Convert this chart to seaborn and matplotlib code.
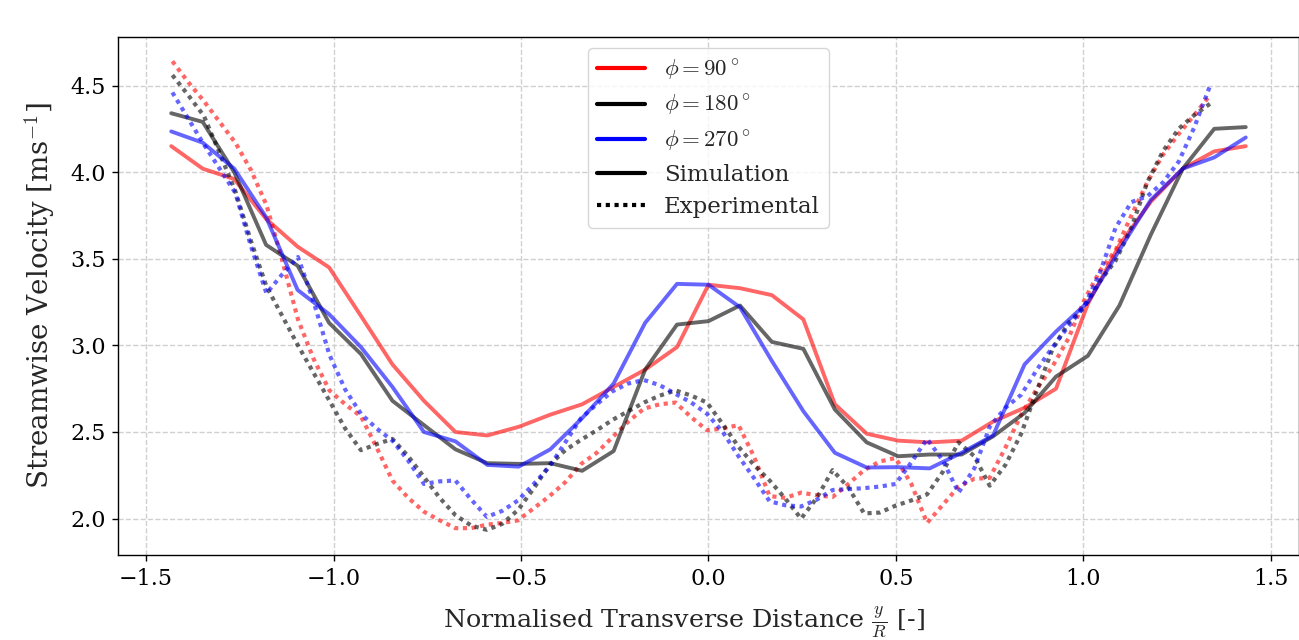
import numpy as np
import pandas as pd
import matplotlib
matplotlib.use("Agg")
import matplotlib.pyplot as plt
import seaborn as sns
from matplotlib.lines import Line2D

# ---- data ----
# Simulation transverse positions (y/R)
x_sim = [-1.433, -1.349, -1.265, -1.180, -1.096, -1.012, -0.927, -0.843, -0.759, -0.675,
         -0.590, -0.506, -0.422, -0.337, -0.253, -0.169, -0.084, 0.000, 0.084, 0.169,
         0.253, 0.337, 0.422, 0.506, 0.590, 0.675, 0.759, 0.843, 0.927, 1.012,
         1.096, 1.180, 1.265, 1.349, 1.433]
sim_90 = [4.15, 4.02, 3.96, 3.73, 3.57, 3.45, 3.17, 2.89, 2.68, 2.50,
          2.48, 2.53, 2.60, 2.66, 2.76, 2.86, 2.99, 3.35, 3.33, 3.29,
          3.15, 2.66, 2.49, 2.45, 2.44, 2.45, 2.56, 2.64, 2.75, 3.24,
          3.58, 3.83, 4.02, 4.12, 4.15]
sim_180 = [4.34, 4.29, 4.00, 3.58, 3.46, 3.13, 2.95, 2.68, 2.54, 2.40,
           2.32, 2.316, 2.32, 2.276, 2.39, 2.86, 3.12, 3.14, 3.23, 3.02,
           2.98, 2.63, 2.44, 2.36, 2.37, 2.37, 2.475, 2.61, 2.82, 2.94,
           3.23, 3.64, 4.02, 4.25, 4.26]
sim_270 = [4.235, 4.17, 4.02, 3.74, 3.32, 3.18, 2.99, 2.76, 2.50, 2.446,
           2.31, 2.30, 2.40, 2.58, 2.78, 3.13, 3.355, 3.35, 3.22, 2.91,
           2.62, 2.38, 2.295, 2.297, 2.29, 2.38, 2.48, 2.89, 3.08, 3.25,
           3.55, 3.84, 4.02, 4.085, 4.20]

# Experimental transverse positions (y/R)
x_exp = [-1.430, -1.388, -1.346, -1.304, -1.262, -1.220, -1.179, -1.137, -1.095, -1.053,
         -1.011, -0.969, -0.927, -0.885, -0.843, -0.801, -0.759, -0.717, -0.675, -0.633,
         -0.591, -0.550, -0.508, -0.466, -0.424, -0.382, -0.340, -0.298, -0.256, -0.214,
         -0.172, -0.130, -0.088, -0.046, -0.004, 0.038, 0.080, 0.121, 0.163, 0.205,
         0.247, 0.289, 0.331, 0.373, 0.415, 0.457, 0.499, 0.541, 0.583, 0.625,
         0.667, 0.709, 0.750, 0.792, 0.834, 0.876, 0.918, 0.960, 1.002, 1.044,
         1.086, 1.128, 1.170, 1.212, 1.254, 1.296, 1.338]
exp_90 = [4.64, 4.52, 4.41, 4.29, 4.17, 4.01, 3.81, 3.49, 3.15, 2.92,
          2.74, 2.66, 2.59, 2.41, 2.22, 2.12, 2.04, 1.99, 1.945, 1.945,
          1.965, 1.975, 1.99, 2.06, 2.13, 2.21, 2.315, 2.38, 2.47, 2.56,
          2.635, 2.66, 2.67, 2.585, 2.51, 2.52, 2.54, 2.36, 2.13, 2.12,
          2.15, 2.135, 2.125, 2.20, 2.28, 2.33, 2.35, 2.20, 1.975, 2.08,
          2.185, 2.23, 2.235, 2.41, 2.60, 2.75, 2.88, 3.04, 3.26, 3.43,
          3.55, 3.75, 3.94, 4.10, 4.22, 4.33, 4.445]
exp_180 = [4.56, 4.445, 4.325, 4.11, 3.89, 3.60, 3.34, 3.17, 3.00, 2.84,
           2.68, 2.52, 2.395, 2.43, 2.46, 2.36, 2.24, 2.12, 2.02, 1.96,
           1.935, 1.97, 2.05, 2.175, 2.31, 2.395, 2.455, 2.51, 2.57, 2.62,
           2.67, 2.71, 2.74, 2.71, 2.67, 2.545, 2.415, 2.31, 2.22, 2.115,
           2.00, 2.12, 2.28, 2.18, 2.03, 2.035, 2.075, 2.105, 2.14, 2.27,
           2.44, 2.36, 2.19, 2.31, 2.49, 2.74, 2.98, 3.13, 3.22, 3.37,
           3.49, 3.68, 3.94, 4.12, 4.25, 4.33, 4.395]
exp_270 = [4.46, 4.31, 4.16, 4.02, 3.88, 3.57, 3.30, 3.41, 3.51, 3.25,
           2.945, 2.745, 2.605, 2.52, 2.45, 2.335, 2.20, 2.215, 2.22, 2.11,
           2.01, 2.045, 2.105, 2.20, 2.30, 2.44, 2.58, 2.66, 2.735, 2.78,
           2.80, 2.77, 2.72, 2.67, 2.605, 2.50, 2.36, 2.235, 2.10, 2.077,
           2.07, 2.11, 2.165, 2.17, 2.176, 2.185, 2.20, 2.325, 2.46, 2.335,
           2.15, 2.29, 2.53, 2.64, 2.715, 2.86, 2.99, 3.11, 3.225, 3.42,
           3.68, 3.827, 3.86, 3.94, 4.06, 4.26, 4.50]

phase_labels = [r"$\phi = 90^\circ$", r"$\phi = 180^\circ$", r"$\phi = 270^\circ$"]
phase_colors = ["red", "black", "blue"]

# ---- style ----
sns.set_theme(style="ticks")
plt.rcParams["font.family"] = ["DejaVu Serif"]
plt.rcParams["mathtext.fontset"] = "cm"

fig = plt.figure(figsize=(12.99, 6.40), dpi=100)
ax = fig.add_axes([118 / 1299, 1 - 555 / 640, (1299 - 118) / 1299, (555 - 37) / 640])

DOT = (1, 1.1)
sims = [sim_90, sim_180, sim_270]
exps = [exp_90, exp_180, exp_270]
for sim, exp, col in zip(sims, exps, phase_colors):
    sns.lineplot(x=x_sim, y=sim, color=col, lw=2.8, alpha=0.6, ax=ax, sort=False)
    sns.lineplot(x=x_exp, y=exp, color=col, lw=3.0, alpha=0.6, dashes=False,
                 ax=ax, sort=False).lines[-1].set_dashes(DOT)

ax.set_xlim(-1.575, 1.575)
ax.set_ylim(1.79, 4.78)
ax.set_xticks([-1.5, -1.0, -0.5, 0.0, 0.5, 1.0, 1.5])
ax.set_yticks([2.0, 2.5, 3.0, 3.5, 4.0, 4.5])
ax.grid(True, ls="--", color="#d0d0d0", lw=1.0)
for sp in ax.spines.values():
    sp.set_color("black")
    sp.set_linewidth(1.0)
ax.tick_params(axis="both", labelsize=16, colors="black", length=4, width=1)
ax.tick_params(axis="x", pad=5.5)
ax.tick_params(axis="y", pad=4.5)

ax.set_xlabel(r"Normalised Transverse Distance $\frac{y}{R}$ [-]", fontsize=18.3,
              labelpad=10)
ax.xaxis.set_label_coords((684 - 118) / 1181, -0.094, transform=ax.transAxes)
ax.xaxis.label.set_verticalalignment("top")
ax.set_ylabel(r"Streamwise Velocity [ms$^{-1}$]", fontsize=20, labelpad=10)

handles = [Line2D([0], [0], color=c, lw=3) for c in phase_colors]
handles += [Line2D([0], [0], color="black", lw=3),
            Line2D([0], [0], color="black", lw=3, dashes=DOT)]
labels = phase_labels + ["Simulation", "Experimental"]
ax.legend(handles, labels, loc="upper center", fontsize=16.5, frameon=True,
          edgecolor="#cccccc", framealpha=0.8, labelspacing=0.45,
          handlelength=2.1)

fig.savefig("out.png", dpi=100)
